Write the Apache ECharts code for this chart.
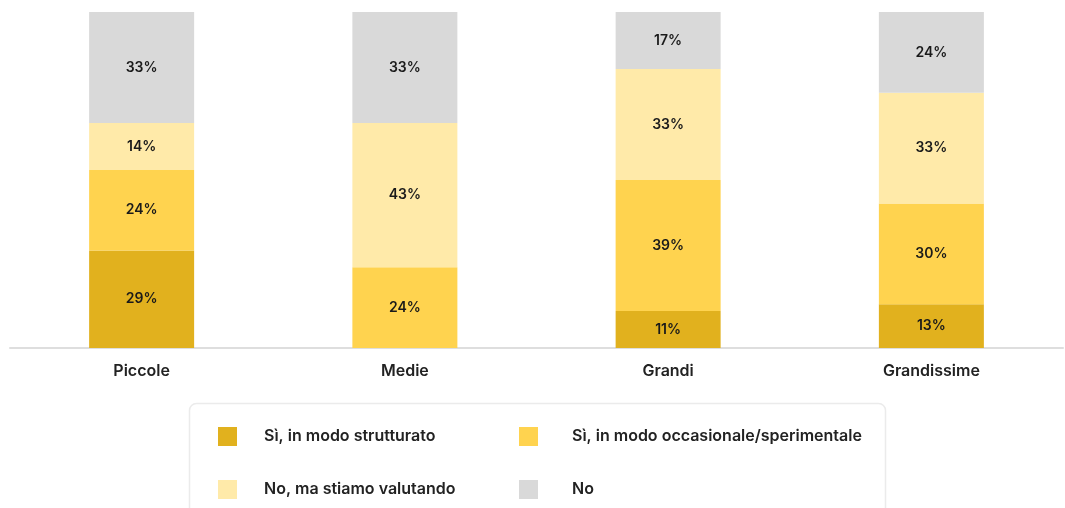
<!DOCTYPE html>
<html>
<head>
<meta charset="utf-8">
<script src="https://cdn.jsdelivr.net/npm/echarts@6/dist/echarts.min.js"></script>
<style>
  html, body { margin: 0; padding: 0; background: #fff; }
  #chart { width: 1065px; height: 508px; }
</style>
</head>
<body>
<div id="chart"></div>
<script>
// Company size classes
const categories = ['Piccole', 'Medie', 'Grandi', 'Grandissime'];

// Share of answers per class (%)
const siStrutturato = [29, 0, 11, 13];
const siOccasionale = [24, 24, 39, 30];
const noValutando = [14, 43, 33, 33];
const no = [33, 33, 17, 24];

const seriesNames = [
  'Sì, in modo strutturato',
  'Sì, in modo occasionale/sperimentale',
  'No, ma stiamo valutando',
  'No'
];
const seriesColors = ['#E1B11E', '#FFD34F', '#FFEAA9', '#D9D9D9'];
const seriesValues = [siStrutturato, siOccasionale, noValutando, no];

const FONT = 'Inter, "Noto Sans", sans-serif';

// Legend laid out as a 2x2 grid: one legend component per entry
const legendSlots = [
  { left: 213, top: 422, gap: 22 },
  { left: 514, top: 422, gap: 29 },
  { left: 213, top: 475, gap: 22 },
  { left: 514, top: 475, gap: 29 }
];

const chart = echarts.init(document.getElementById('chart'), null, { renderer: 'canvas' });

chart.setOption({
  animation: false,
  backgroundColor: '#ffffff',
  grid: { left: 10, right: 2, top: 12, bottom: 160, containLabel: false },
  xAxis: {
    type: 'category',
    data: categories,
    axisLine: { show: true, lineStyle: { color: '#dedede', width: 2 } },
    axisTick: { show: false },
    axisLabel: {
      margin: 15,
      fontFamily: FONT,
      fontSize: 16,
      fontWeight: 600,
      color: '#222222'
    }
  },
  yAxis: {
    type: 'value',
    min: 0,
    max: 100,
    show: false,
    splitLine: { show: false }
  },
  legend: seriesNames.map((name, i) => ({
    orient: 'horizontal',
    left: legendSlots[i].left,
    top: legendSlots[i].top,
    itemWidth: 19,
    itemHeight: 19,
    icon: 'rect',
    data: [name],
    selectedMode: false,
    textStyle: {
      fontFamily: FONT, fontSize: 16, fontWeight: 600, color: '#222222',
      padding: [0, 0, 0, legendSlots[i].gap]
    }
  })),
  graphic: [
    {
      type: 'rect',
      left: 187,
      top: 401,
      shape: { width: 696, height: 130, r: 7 },
      style: { fill: 'none', stroke: '#ebebeb', lineWidth: 1.5 },
      z: -1
    }
  ],
  series: seriesValues.map((vals, i) => ({
    name: seriesNames[i],
    type: 'bar',
    stack: 'total',
    barWidth: 105,
    data: vals,
    itemStyle: { color: seriesColors[i] },
    label: {
      show: true,
      position: 'inside',
      fontFamily: FONT,
      fontSize: 14,
      fontWeight: 600,
      color: '#1a1a1a',
      formatter: p => (p.value > 0 ? p.value + '%' : '')
    }
  }))
});
</script>
</body>
</html>
